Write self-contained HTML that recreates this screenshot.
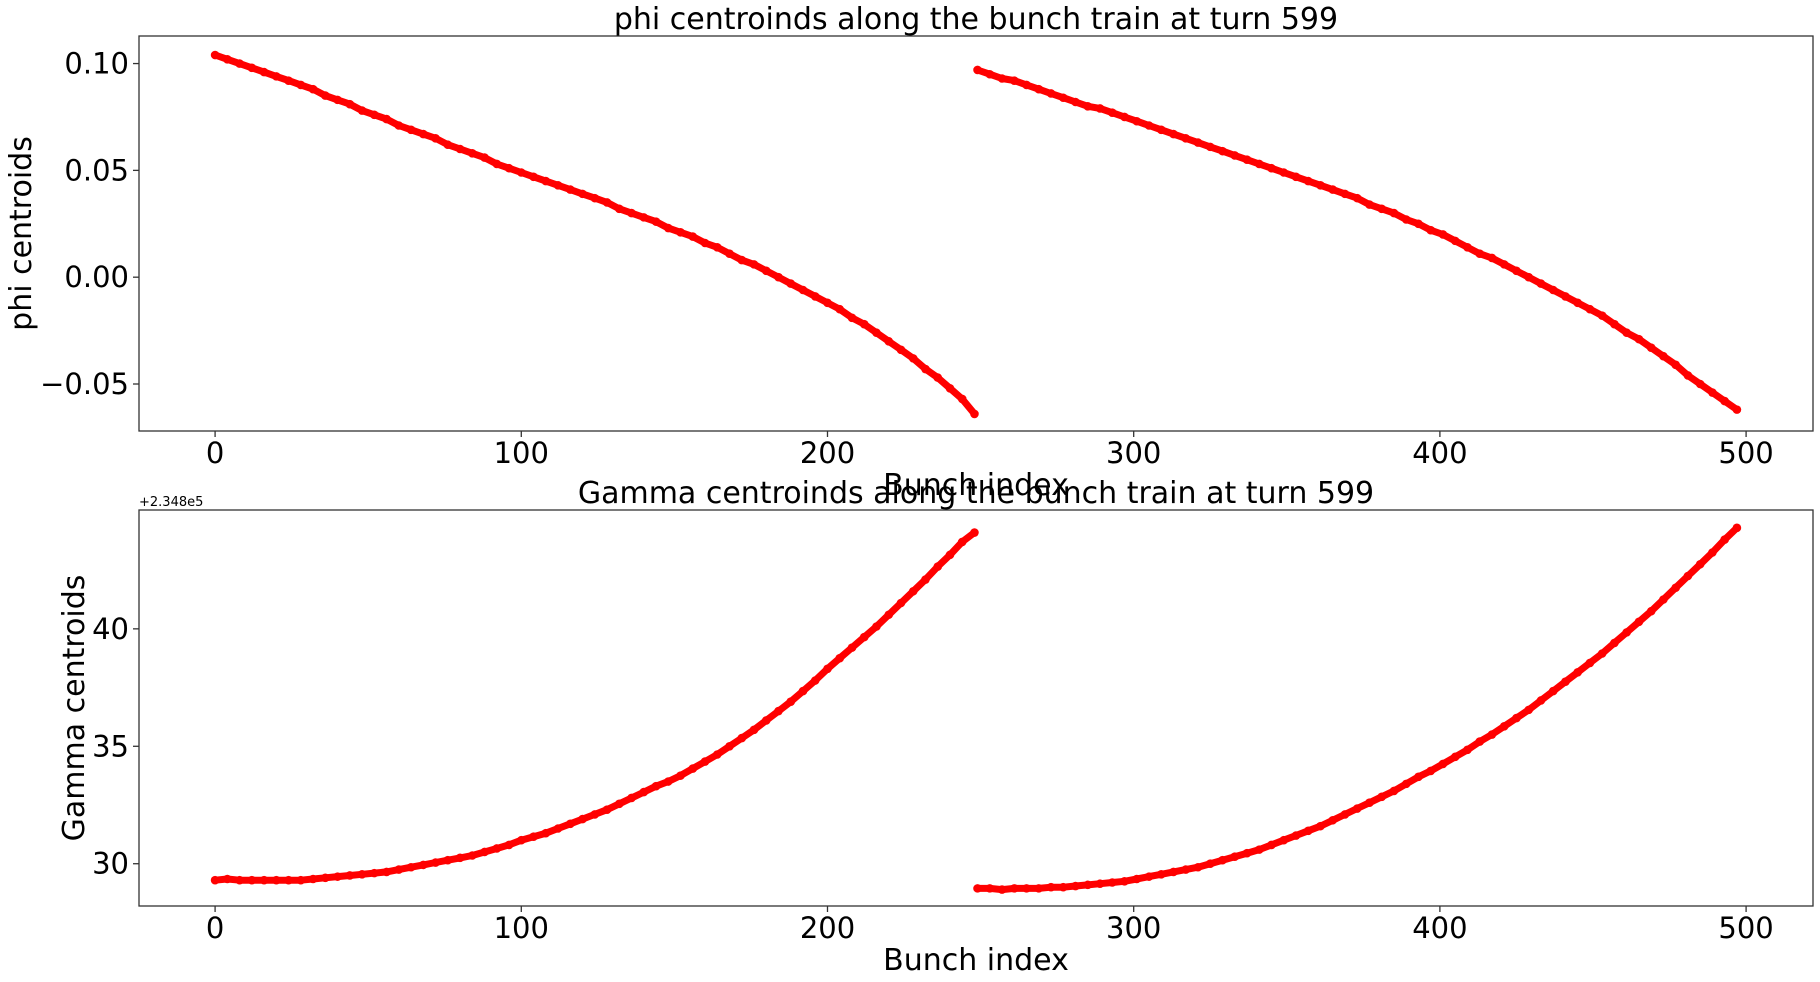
<!DOCTYPE html>
<html><head><meta charset="utf-8"><style>
html,body{margin:0;padding:0;background:#fff;}
svg{display:block;font-family:"DejaVu Sans","Liberation Sans",sans-serif;}
</style></head><body>
<svg id="fig" width="1820" height="982" viewBox="0 0 1820 982" xmlns="http://www.w3.org/2000/svg"></svg>
<script>
const phiTrain1 = [0.104,0.102,0.100,0.098,0.096,0.094,0.092,0.090,0.088,0.085,0.083,0.081,0.078,0.076,0.074,0.071,0.069,0.067,0.065,0.062,0.060,0.058,0.056,0.053,0.051,0.049,0.047,0.045,0.043,0.041,0.039,0.037,0.035,0.032,0.030,0.028,0.026,0.023,0.021,0.019,0.016,0.014,0.011,0.008,0.006,0.003,0.000,-0.003,-0.006,-0.009,-0.012,-0.015,-0.019,-0.022,-0.026,-0.030,-0.034,-0.038,-0.043,-0.047,-0.052,-0.057,-0.064];
const phiTrain2 = [0.097,0.095,0.093,0.092,0.090,0.088,0.086,0.084,0.082,0.080,0.079,0.077,0.075,0.073,0.071,0.069,0.067,0.065,0.063,0.061,0.059,0.057,0.055,0.053,0.051,0.049,0.047,0.045,0.043,0.041,0.039,0.037,0.034,0.032,0.030,0.027,0.025,0.022,0.020,0.017,0.014,0.011,0.009,0.006,0.003,0.000,-0.003,-0.006,-0.009,-0.012,-0.015,-0.018,-0.022,-0.026,-0.029,-0.033,-0.037,-0.041,-0.046,-0.050,-0.054,-0.058,-0.062];
const gamTrain1 = [29.3,29.35,29.3,29.3,29.3,29.3,29.3,29.3,29.35,29.4,29.45,29.5,29.55,29.6,29.65,29.75,29.85,29.95,30.05,30.15,30.25,30.35,30.5,30.65,30.8,31.0,31.15,31.3,31.5,31.7,31.9,32.1,32.3,32.55,32.8,33.05,33.3,33.5,33.75,34.05,34.35,34.65,35.0,35.35,35.7,36.1,36.5,36.9,37.35,37.8,38.3,38.75,39.2,39.65,40.1,40.6,41.1,41.6,42.1,42.65,43.15,43.7,44.1];
const gamTrain2 = [28.95,28.95,28.9,28.95,28.95,28.95,29.0,29.0,29.05,29.1,29.15,29.2,29.25,29.35,29.45,29.55,29.65,29.75,29.85,30.0,30.15,30.3,30.45,30.6,30.8,31.0,31.2,31.4,31.6,31.85,32.1,32.35,32.6,32.85,33.1,33.4,33.7,33.95,34.25,34.55,34.85,35.2,35.5,35.85,36.2,36.55,36.95,37.35,37.75,38.15,38.55,38.95,39.4,39.85,40.3,40.75,41.25,41.75,42.25,42.75,43.25,43.8,44.3];
const train1Start = 0, train2Start = 249, indexStep = 4;
const xTicks = [0,100,200,300,400,500];
const phiTicks = [0.10,0.05,0.00,-0.05];
const phiTickLabels = ["0.10","0.05","0.00","\u22120.05"];
const gamTicks = [30,35,40];
const gamTickLabels = ["30","35","40"];

const NS="http://www.w3.org/2000/svg";
const svg=document.getElementById('fig');
function mk(tag,attrs,parent){const e=document.createElementNS(NS,tag);for(const k in attrs)e.setAttribute(k,attrs[k]);(parent||svg).appendChild(e);return e;}
const L=139,R=1813,XMIN=-24.85,XMAX=521.85;
const xs=v=>L+(v-XMIN)/(XMAX-XMIN)*(R-L);

function panel(p){
  const ys=v=>p.bot-(v-p.ymin)/(p.ymax-p.ymin)*(p.bot-p.top);
  const g=mk('g',{});
  
  
  [[p.t1,train1Start],[p.t2,train2Start]].forEach(([arr,st],ti)=>{
    const pts=arr.map((v,i)=>xs(st+i*indexStep).toFixed(1)+','+ys(v).toFixed(1)).join(' ');
    const pl=mk('polyline',{points:pts,fill:'none',stroke:'#ff0000','stroke-width':7,'stroke-linejoin':'round','stroke-linecap':'round'},g);
    
    
    arr.forEach((v,i)=>{
      const c=mk('circle',{cx:xs(st+i*indexStep),cy:ys(v),r:4.3,fill:'#ff0000'},g);
      
      
    });
  });
  const fr=mk('rect',{x:L,y:p.top,width:R-L,height:p.bot-p.top,fill:'none',stroke:'#333','stroke-width':1.3},g);
  
  
  xTicks.forEach(t=>{
    mk('line',{x1:xs(t),x2:xs(t),y1:p.bot,y2:p.bot+6,stroke:'#333','stroke-width':1.3},g);
    const tx=mk('text',{x:xs(t),y:p.bot+32,'font-size':29,'text-anchor':'middle',fill:'#000'},g);
    tx.textContent=t;
    
    
  });
  p.yt.forEach((t,i)=>{
    mk('line',{x1:L-6,x2:L,y1:ys(t),y2:ys(t),stroke:'#333','stroke-width':1.3},g);
    const tx=mk('text',{x:L-10,y:ys(t)+10,'font-size':29,'text-anchor':'end',fill:'#000'},g);
    tx.textContent=p.yl[i];
    
    
  });
  const ti=mk('text',{x:(L+R)/2,y:p.top-7,'font-size':30,'text-anchor':'middle',fill:'#000'},g);
  ti.textContent=p.title;
  
  
  const xl=mk('text',{x:(L+R)/2,y:p.bot+64,'font-size':30,'text-anchor':'middle',fill:'#000'},g);
  xl.textContent='Bunch index';
  
  
  const cy=(p.top+p.bot)/2;
  const yl=mk('text',{x:p.ylx,y:cy,'font-size':30,'text-anchor':'middle',fill:'#000',transform:`rotate(-90 ${p.ylx} ${cy})`},g);
  yl.textContent=p.ylabel;
  
  
}
panel({name:'phi-panel',top:36,bot:431,ymin:-0.072,ymax:0.1129,t1:phiTrain1,t2:phiTrain2,yt:phiTicks,yl:phiTickLabels,title:'phi centroinds along the bunch train at turn 599',ylabel:'phi centroids',ylx:31});
panel({name:'gamma-panel',top:510,bot:906,ymin:28.2,ymax:45.06,t1:gamTrain1,t2:gamTrain2,yt:gamTicks,yl:gamTickLabels,title:'Gamma centroinds along the bunch train at turn 599',ylabel:'Gamma centroids',ylx:84});
const off=mk('text',{x:139,y:506,'font-size':13,fill:'#000'});
off.textContent='+2.348e5';


</script>
</body></html>
